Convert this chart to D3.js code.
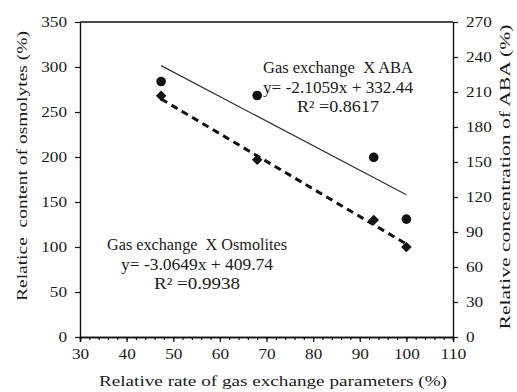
<!DOCTYPE html>
<html>
<head>
<meta charset="utf-8">
<script src="https://cdn.jsdelivr.net/npm/d3@7"></script>
<style>
  html, body { margin: 0; padding: 0; background: #fff; }
  svg text { font-family: "Liberation Serif", "DejaVu Serif", serif; fill: #1a1a1a; }
</style>
</head>
<body>
<svg id="chart" width="517" height="392"></svg>
<script>
// Relative gas exchange rate (%) for each treatment
const gasExchange = [47.4, 68, 93, 100];
// Relative osmolyte content (%), left axis
const osmolytes = [268, 197, 130, 100];
// Relative ABA concentration (%), right axis
const aba = [219, 207, 154, 101];

// Linear fits: [slope, intercept, R²]
const osmoFit = [-3.0649, 409.74, 0.9938];
const abaFit = [-2.1059, 332.44, 0.8617];

const xTicks = [30, 40, 50, 60, 70, 80, 90, 100, 110];
const leftTicks = [0, 50, 100, 150, 200, 250, 300, 350];
const rightTicks = [0, 30, 60, 90, 120, 150, 180, 210, 240, 270];

const svg = d3.select("#chart");
const plotL = 80, plotR = 453, plotT = 22, plotB = 337;

const x = d3.scaleLinear().domain([30, 110]).range([plotL, plotR]);
const yL = d3.scaleLinear().domain([0, 350]).range([plotB, plotT]);
const yR = d3.scaleLinear().domain([0, 270]).range([plotB, plotT]);

// the serif face is set a little wide: stretch each label to its run length
function stretch(sel, len) {
  sel.attr("textLength", len).attr("lengthAdjust", "spacingAndGlyphs");
}

function styleAxis(g) {
  g.attr("font-family", null);
  g.selectAll("path").attr("stroke", "#111").attr("stroke-width", 1.4);
  g.selectAll("line").attr("stroke", "#111").attr("stroke-width", 1.2);
  g.selectAll("text").attr("font-size", 15).attr("fill", "#1a1a1a")
    .attr("textLength", function () { return this.textContent.length * 8.6; })
    .attr("lengthAdjust", "spacingAndGlyphs");
}

// top frame line
svg.append("line")
  .attr("x1", plotL).attr("x2", plotR).attr("y1", plotT).attr("y2", plotT)
  .attr("stroke", "#111").attr("stroke-width", 1.4);

// x axis: minor ticks every 2, labelled majors every 10
svg.append("g").attr("transform", `translate(0,${plotB})`)
  .call(d3.axisBottom(x).tickValues(d3.range(30, 111, 2)).tickSize(3).tickFormat(""))
  .call(styleAxis);
svg.append("g").attr("transform", `translate(0,${plotB})`)
  .call(d3.axisBottom(x).tickValues(xTicks).tickSize(5).tickPadding(6).tickFormat(d3.format("d")))
  .call(styleAxis);

svg.append("g").attr("transform", `translate(${plotL},0)`)
  .call(d3.axisLeft(yL).tickValues(leftTicks).tickSize(5).tickPadding(8).tickSizeOuter(0))
  .call(styleAxis);

svg.append("g").attr("transform", `translate(${plotR},0)`)
  .call(d3.axisRight(yR).tickValues(rightTicks).tickSize(5).tickPadding(8).tickSizeOuter(0))
  .call(styleAxis);

// axis titles
svg.append("text")
  .attr("x", 273).attr("y", 386)
  .attr("text-anchor", "middle").attr("font-size", 15.5)
  .text("Relative rate of gas exchange parameters (%)")
  .call(stretch, 348);

svg.append("text")
  .attr("transform", "translate(27,166) rotate(-90)")
  .attr("text-anchor", "middle").attr("font-size", 15.5)
  .style("white-space", "pre")
  .text("Relatice  content of osmolytes (%)")
  .call(stretch, 270);

svg.append("text")
  .attr("transform", "translate(510,177) rotate(-90)")
  .attr("text-anchor", "middle").attr("font-size", 15.5)
  .text("Relative concentration of ABA (%)")
  .call(stretch, 305);

// trend lines from the fitted equations, over the data range
const xExt = d3.extent(gasExchange);
const line = d3.line();

svg.append("path")
  .attr("d", line(xExt.map(v => [x(v), yR(abaFit[0] * v + abaFit[1])])))
  .attr("fill", "none").attr("stroke", "#333").attr("stroke-width", 1.2);

svg.append("path")
  .attr("d", line(xExt.map(v => [x(v), yL(osmoFit[0] * v + osmoFit[1])])))
  .attr("fill", "none").attr("stroke", "#111").attr("stroke-width", 3)
  .attr("stroke-dasharray", "7,5");

// ABA points (circles, right axis)
svg.append("g").selectAll("circle")
  .data(gasExchange.map((v, i) => [v, aba[i]]))
  .join("circle")
  .attr("cx", d => x(d[0])).attr("cy", d => yR(d[1]))
  .attr("r", 4.8).attr("fill", "#111");

// Osmolyte points (diamonds, left axis)
svg.append("g").selectAll("path")
  .data(gasExchange.map((v, i) => [v, osmolytes[i]]))
  .join("path")
  .attr("transform", d => `translate(${x(d[0])},${yL(d[1])})`)
  .attr("d", d3.symbol(d3.symbolDiamond2, 70))
  .attr("fill", "#111");

// fit annotations
const fmtEq = f => `y= ${f[0]}x + ${f[1]}`;
const fmtR2 = f => `R² =${f[2]}`;
function annotate(cx, y0, lines) {
  lines.forEach(([s, len], i) => {
    svg.append("text")
      .attr("x", cx).attr("y", y0 + i * 19.5)
      .attr("text-anchor", "middle").attr("font-size", 16)
      .style("white-space", "pre")
      .text(s)
      .call(stretch, len);
  });
}
annotate(338, 73, [["Gas exchange  X ABA", 150], [fmtEq(abaFit), 150], [fmtR2(abaFit), 82]]);
annotate(197, 250, [["Gas exchange  X Osmolites", 180], [fmtEq(osmoFit), 152], [fmtR2(osmoFit), 86]]);
</script>
</body>
</html>
